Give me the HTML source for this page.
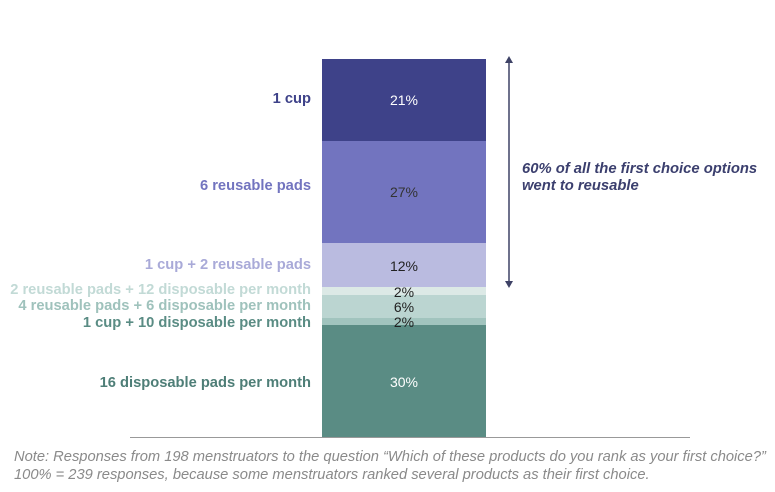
<!DOCTYPE html>
<html><head><meta charset="utf-8"><style>
body{margin:0;width:775px;height:492px;background:#fff;position:relative;overflow:hidden;font-family:"Liberation Sans",Arial,sans-serif}
.s{position:absolute;left:322px;width:164px}
.v{position:absolute;left:322px;width:164px;text-align:center;font-size:14px;line-height:14px}
.l{position:absolute;right:464px;font-size:14.7px;font-weight:bold;white-space:nowrap;line-height:14px}
.n{position:absolute;left:14px;font-size:14.7px;font-style:italic;color:#8a8a8a;white-space:nowrap;line-height:17px}
</style></head><body>
<div class="s" style="top:59px;height:82px;background:#3e4289"></div>
<div class="s" style="top:141px;height:102px;background:#7274bf"></div>
<div class="s" style="top:243px;height:44px;background:#babbe0"></div>
<div class="s" style="top:287px;height:8px;background:#dce9e6"></div>
<div class="s" style="top:295px;height:23px;background:#bbd5d1"></div>
<div class="s" style="top:318px;height:7px;background:#a1c4be"></div>
<div class="s" style="top:325px;height:112px;background:#5a8c84"></div>
<div style="position:absolute;left:130px;top:437px;width:560px;height:1px;background:#999"></div>

<div class="v" style="top:93px;color:#fff">21%</div>
<div class="v" style="top:185px;color:#333">27%</div>
<div class="v" style="top:259px;color:#222">12%</div>
<div class="v" style="top:285px;color:#222">2%</div>
<div class="v" style="top:300px;color:#222">6%</div>
<div class="v" style="top:315px;color:#222">2%</div>
<div class="v" style="top:375px;color:#fff">30%</div>

<div class="l" style="top:92px;color:#3e4289">1 cup</div>
<div class="l" style="top:179px;color:#7274bf">6 reusable pads</div>
<div class="l" style="top:258px;color:#a9aad8">1 cup + 2 reusable pads</div>
<div class="l" style="top:283px;color:#c2dad6">2 reusable pads + 12 disposable per month</div>
<div class="l" style="top:299px;color:#9fc2bc">4 reusable pads + 6 disposable per month</div>
<div class="l" style="top:316px;color:#5a8c84">1 cup + 10 disposable per month</div>
<div class="l" style="top:376px;color:#4e7e77">16 disposable pads per month</div>

<svg style="position:absolute;left:0;top:0" width="775" height="492">
<line x1="509" y1="62" x2="509" y2="282" stroke="#3e4266" stroke-width="1.5"/>
<polygon points="505,63 513,63 509,56" fill="#3e4266"/>
<polygon points="505,281 513,281 509,288" fill="#3e4266"/>
</svg>
<div style="position:absolute;left:522px;top:161px;font-size:14.8px;font-weight:bold;font-style:italic;color:#3b3f6e;line-height:17px">60% of all the first choice options<br>went to reusable</div>

<div class="n" style="top:449px">Note: Responses from 198 menstruators to the question “Which of these products do you rank as your first choice?”</div>
<div class="n" style="top:467px">100% = 239 responses, because some menstruators ranked several products as their first choice.</div>
</body></html>
